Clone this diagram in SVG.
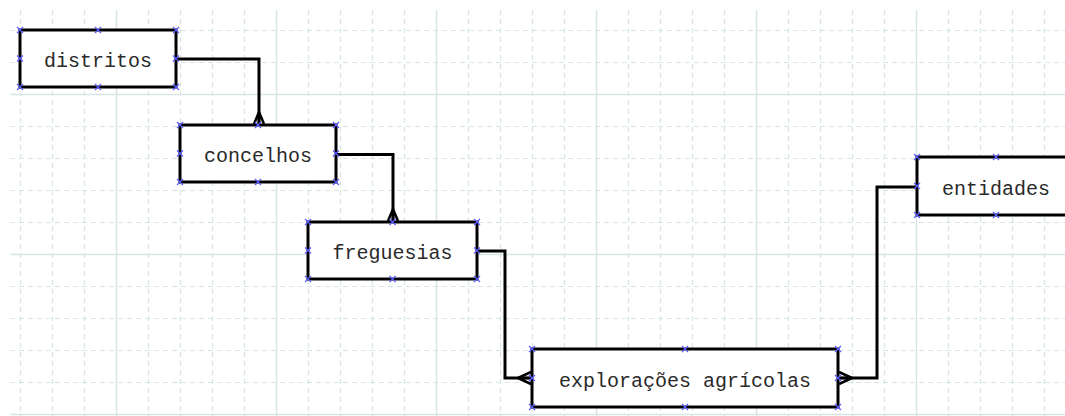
<svg xmlns="http://www.w3.org/2000/svg" xmlns:xlink="http://www.w3.org/1999/xlink" width="1065" height="416" viewBox="0 0 1065 416">
<style>
.gd{stroke:#d8e5e5;stroke-width:1.2;stroke-dasharray:5 4;fill:none}
.gs{stroke:#d8e5e5;stroke-width:1.5;fill:none}
.box{fill:#ffffff;stroke:#000000;stroke-width:3}
.lbl{font-family:"Liberation Mono","Courier New",monospace;font-size:20px;fill:#2a2a2a;text-anchor:middle}
.conn{stroke:#000000;stroke-width:3;fill:none}
.crow{stroke:#000000;stroke-width:2.5;fill:none}
.mk{stroke:#5a5aff;stroke-width:1.2;fill:none}
</style>
<defs>
<path id="x" class="mk" d="M-3,-3L3,3M-3,3L3,-3"/>
</defs>
<rect x="0" y="0" width="1065" height="416" fill="#ffffff"/>
<g id="grid">
<path class="gd" d="M20.5,10V416M52.5,10V416M84.5,10V416M148.5,10V416M180.5,10V416M212.5,10V416M244.5,10V416M308.5,10V416M340.5,10V416M372.5,10V416M404.5,10V416M468.5,10V416M500.5,10V416M532.5,10V416M564.5,10V416M628.5,10V416M660.5,10V416M692.5,10V416M724.5,10V416M788.5,10V416M820.5,10V416M852.5,10V416M884.5,10V416M948.5,10V416M980.5,10V416M1012.5,10V416M1044.5,10V416"/>
<path class="gd" d="M10,30.5H1065M10,62.5H1065M10,126.5H1065M10,158.5H1065M10,190.5H1065M10,222.5H1065M10,286.5H1065M10,318.5H1065M10,350.5H1065M10,382.5H1065"/>
<path class="gs" d="M116.5,10V416M276.5,10V416M436.5,10V416M596.5,10V416M756.5,10V416M916.5,10V416M10,94.5H1065M10,254.5H1065M10,414.5H1065"/>
</g>
<g id="connectors">
<path class="conn" d="M176,59H259V124"/>
<path class="crow" d="M259,112L254,124M259,112L264,124M259,112V124"/>
<path class="conn" d="M336,154.5H393V221"/>
<path class="crow" d="M393,209L388,221M393,209L398,221M393,209V221"/>
<path class="conn" d="M477,251H505V378H531"/>
<path class="crow" d="M518,378L531,372M518,378L531,384M518,378H531"/>
<path class="conn" d="M839,378H877V187H916"/>
<path class="crow" d="M852,378L839,372M852,378L839,384M852,378H839"/>
</g>
<g id="distritos">
<rect class="box" x="20" y="30" width="156" height="57"/>
<text class="lbl" x="98" y="66.5">distritos</text>
<use xlink:href="#x" x="20" y="30"/><use xlink:href="#x" x="98" y="30"/><use xlink:href="#x" x="176" y="30"/>
<use xlink:href="#x" x="20" y="58.5"/><use xlink:href="#x" x="176" y="58.5"/>
<use xlink:href="#x" x="20" y="87"/><use xlink:href="#x" x="98" y="87"/><use xlink:href="#x" x="176" y="87"/>
</g>
<g id="concelhos">
<rect class="box" x="180" y="125" width="156" height="57"/>
<text class="lbl" x="258" y="162">concelhos</text>
<use xlink:href="#x" x="180" y="125"/><use xlink:href="#x" x="258" y="125"/><use xlink:href="#x" x="336" y="125"/>
<use xlink:href="#x" x="180" y="153.5"/><use xlink:href="#x" x="336" y="153.5"/>
<use xlink:href="#x" x="180" y="182"/><use xlink:href="#x" x="258" y="182"/><use xlink:href="#x" x="336" y="182"/>
</g>
<g id="freguesias">
<rect class="box" x="308" y="222" width="169" height="57"/>
<text class="lbl" x="392.5" y="258.5">freguesias</text>
<use xlink:href="#x" x="308" y="222"/><use xlink:href="#x" x="392.5" y="222"/><use xlink:href="#x" x="477" y="222"/>
<use xlink:href="#x" x="308" y="250.5"/><use xlink:href="#x" x="477" y="250.5"/>
<use xlink:href="#x" x="308" y="279"/><use xlink:href="#x" x="392.5" y="279"/><use xlink:href="#x" x="477" y="279"/>
</g>
<g id="exploracoes">
<rect class="box" x="532" y="349" width="306" height="58"/>
<text class="lbl" x="685" y="386.5">explorações agrícolas</text>
<use xlink:href="#x" x="532" y="349"/><use xlink:href="#x" x="685" y="349"/><use xlink:href="#x" x="838" y="349"/>
<use xlink:href="#x" x="532" y="378"/><use xlink:href="#x" x="838" y="378"/>
<use xlink:href="#x" x="532" y="407"/><use xlink:href="#x" x="685" y="407"/><use xlink:href="#x" x="838" y="407"/>
</g>
<g id="entidades">
<rect class="box" x="917" y="157" width="158" height="58"/>
<text class="lbl" x="996" y="194.5">entidades</text>
<use xlink:href="#x" x="917" y="157"/><use xlink:href="#x" x="996" y="157"/>
<use xlink:href="#x" x="917" y="186"/>
<use xlink:href="#x" x="917" y="215"/><use xlink:href="#x" x="996" y="215"/>
</g>
</svg>
